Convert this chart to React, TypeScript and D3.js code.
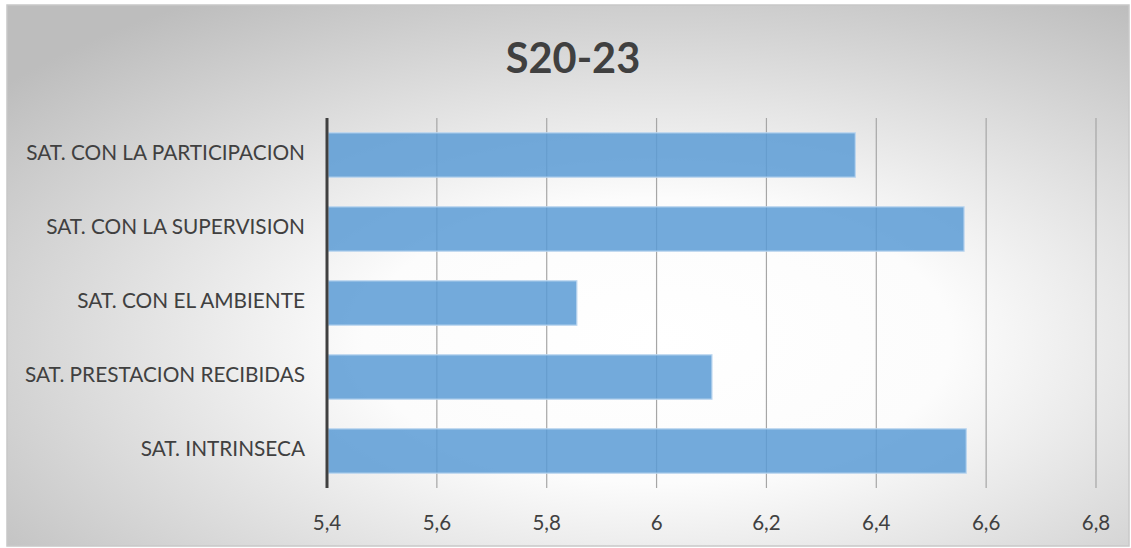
import { scaleLinear, scaleBand, range } from "d3";

const categories = [
  "SAT. CON LA PARTICIPACION",
  "SAT. CON LA SUPERVISION",
  "SAT. CON EL AMBIENTE",
  "SAT. PRESTACION RECIBIDAS",
  "SAT. INTRINSECA",
];
const values = [6.36, 6.558, 5.853, 6.099, 6.562];
const xTicks = [5.4, 5.6, 5.8, 6.0, 6.2, 6.4, 6.6, 6.8];
const title = "S20-23";

const W = 1131, H = 548;
const M = { top: 118, right: 35, bottom: 60, left: 327 };
const FONT = "Lato, 'Open Sans', sans-serif";

export default function App() {
  const pH = H - M.top - M.bottom;
  const x = scaleLinear().domain([5.4, 6.8]).range([0, 769]);
  const y = scaleBand().domain(categories).range([0, pH]).paddingInner(0.4).paddingOuter(0.2);
  const fmt = (v: number) => (Math.round(v * 10) / 10).toString().replace(".", ",");
  return (
    <svg width={W} height={H} style={{ position: "absolute", left: 0, top: 0 }}>
      <defs>
        <radialGradient id="bg" cx="0.58" cy="0.62" r="0.75" gradientUnits="objectBoundingBox">
          <stop offset="0" stopColor="#ffffff" />
          <stop offset="0.35" stopColor="#fcfcfc" />
          <stop offset="1" stopColor="#bdbdbd" />
        </radialGradient>
      </defs>
      <rect x={0} y={0} width={W} height={H} fill="#ffffff" />
      <rect x={7} y={5} width={W - 9} height={H - 7} fill="url(#bg)" stroke="#c8c8c8" strokeWidth={1.5} />
      <text x={573} y={73} textAnchor="middle" fontFamily={FONT} fontWeight={700} fontSize={41.5} fill="#404040">{title}</text>
      <g transform={`translate(${M.left},${M.top})`}>
        {xTicks.slice(1).map(t => (
          <line key={t} x1={x(t)} x2={x(t)} y1={0} y2={pH} stroke="#a6a6a6" strokeWidth={1.2} />
        ))}
        {categories.map((c, i) => (
          <g key={c}>
            <rect x={x(5.4) + 1} y={y(c)} width={x(values[i]) - x(5.4)} height={y.bandwidth()}
              fill="#5b9bd5" fillOpacity={0.85} stroke="#bcd6ef" strokeWidth={1.2} />
            <text x={-22} y={(y(c) ?? 0) + y.bandwidth() / 2} textAnchor="end" dominantBaseline="middle"
              fontFamily={FONT} fontSize={20.8} fill="#404040">{c}</text>
          </g>
        ))}
        <line x1={0} x2={0} y1={0} y2={pH} stroke="#404040" strokeWidth={3} />
        {range(xTicks.length).map(i => (
          <text key={i} x={x(xTicks[i])} y={pH + 42} textAnchor="middle" fontFamily={FONT} fontSize={20.5} fill="#404040">
            {fmt(xTicks[i])}
          </text>
        ))}
      </g>
    </svg>
  );
}
